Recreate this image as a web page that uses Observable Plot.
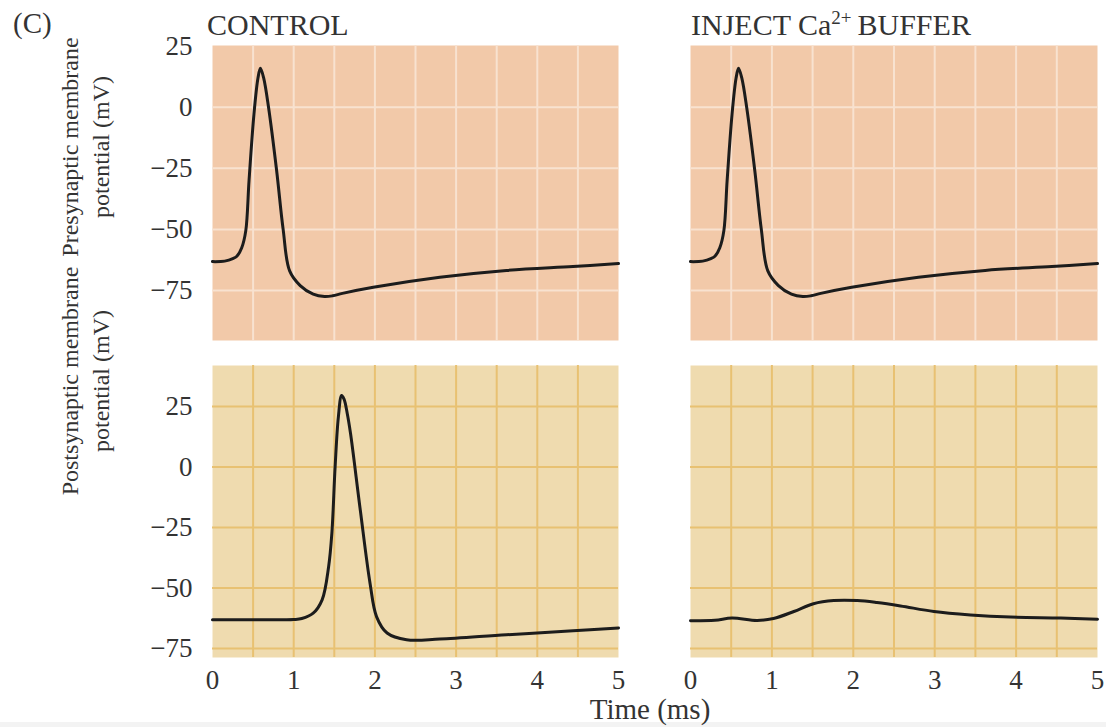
<!DOCTYPE html>
<html><head><meta charset="utf-8">
<script src="https://cdn.jsdelivr.net/npm/d3@7"></script>
<script src="https://cdn.jsdelivr.net/npm/@observablehq/plot@0.6"></script>
<style>
body{margin:0;background:#fff;}
#root{position:relative;width:1106px;height:727px;overflow:hidden;font-family:"Liberation Serif",serif;color:#333;}
.lbl{position:absolute;white-space:nowrap;font-size:30px;line-height:30px;}
.ylab{position:absolute;white-space:nowrap;font-size:24px;line-height:31px;text-align:center;transform:translate(-50%,-50%) rotate(-90deg);}
.p{position:absolute;}
sup{font-size:19px;vertical-align:11px;line-height:0;}
</style></head><body><div id="root"></div>
<script>
// ---- data ----
const preT = [0, 0.15, 0.25, 0.30, 0.36, 0.41, 0.45, 0.51, 0.56, 0.59, 0.63, 0.69, 0.79, 0.87, 0.95, 1.08, 1.24, 1.38, 1.48, 1.6, 1.98, 2.8, 3.62, 4.44, 5.0];
const preV = [-63.2, -63, -62, -61, -57.5, -50.5, -30, -3, 12, 16, 12, 0, -26, -50, -67, -73, -76.5, -77.5, -77.2, -76.2, -73.7, -69.6, -66.8, -65.2, -64];
const postCtrlT = [0, 0.5, 1.0, 1.1, 1.24, 1.35, 1.43, 1.47, 1.51, 1.55, 1.59, 1.62, 1.66, 1.70, 1.82, 1.94, 2.02, 2.15, 2.39, 2.8, 3.62, 4.44, 5.0];
const postCtrlV = [-63.1, -63.1, -63, -62.6, -60.4, -54.9, -41.2, -27.4, 0, 20.6, 29.5, 28, 22, 13.8, -17.8, -48, -61.8, -68.6, -71.4, -71.1, -69.3, -67.7, -66.5];
const postBufT = [0, 0.3, 0.51, 0.82, 1.02, 1.27, 1.51, 1.76, 2.05, 2.29, 2.58, 2.99, 3.44, 3.93, 4.55, 5.0];
const postBufV = [-63.5, -63.3, -62.4, -63.4, -62.6, -59.7, -56.5, -55.2, -55.2, -56, -57.4, -59.7, -61.1, -62, -62.4, -62.9];
const xTicks = [0, 1, 2, 3, 4, 5];
const yTicks = [25, 0, -25, -50, -75];
const xGrid = [0.5, 1, 1.5, 2, 2.5, 3, 3.5, 4, 4.5];
const preGridY = [0, -25, -50, -75];
const postGridY = [25, 0, -25, -50, -75];
const colTitles = ["CONTROL", "INJECT Ca<sup>2+</sup>\u2009BUFFER"];
const rowTitles = [["Presynaptic membrane", "potential (mV)"], ["Postsynaptic membrane", "potential (mV)"]];

const zip = (T, V) => T.map((t, i) => ({t, v: V[i]}));
const fmt = d => d < 0 ? "\u2212" + (-d) : String(d);
const root = document.getElementById("root");

function panel({data, yDomain, gridY, bg, grid, showX, showY, left, top, fw, fh}) {
  const mL = 80, mR = 20, mT = 5, mB = 45;
  const chart = Plot.plot({
    width: fw + mL + mR, height: fh + mT + mB,
    marginLeft: mL, marginRight: mR, marginTop: mT, marginBottom: mB,
    style: {fontFamily: '"Liberation Serif", serif', fontSize: "27px", color: "#333", background: "transparent", overflow: "visible"},
    x: {domain: [0, 5], ticks: xTicks, tickFormat: fmt, tickSize: 0, tickPadding: 12, label: null, axis: showX ? "bottom" : null},
    y: {domain: yDomain, ticks: yTicks, tickFormat: fmt, tickSize: 0, tickPadding: 20, label: null, axis: showY ? "left" : null},
    marks: [
      Plot.frame({fill: bg, stroke: "none"}),
      Plot.ruleX(xGrid, {stroke: grid, strokeWidth: 2}),
      Plot.ruleY(gridY, {stroke: grid, strokeWidth: 2}),
      Plot.line(data, {x: "t", y: "v", curve: "catmull-rom", stroke: "#1c1c1c", strokeWidth: 3})
    ]
  });
  chart.classList.add("p");
  chart.style.left = (left - mL) + "px";
  chart.style.top = (top - mT) + "px";
  root.appendChild(chart);
}

const preDomain = [-95.5, 25.3];
const postDomain = [-78.7, 41.9];
const preBg = "#F2C9A9", preGrid = "#F8E2D0";
const postBg = "#EFDBAF", postGrid = "#E8C172";

const strip = document.createElement("div");
Object.assign(strip.style, {position: "absolute", left: "0px", top: "722px", width: "1106px", height: "5px", background: "#F3F3F3"});
root.appendChild(strip);

panel({data: zip(preT, preV), yDomain: preDomain, gridY: preGridY, bg: preBg, grid: preGrid, showX: false, showY: true, left: 212, top: 45, fw: 406, fh: 295});
panel({data: zip(preT, preV), yDomain: preDomain, gridY: preGridY, bg: preBg, grid: preGrid, showX: false, showY: false, left: 690, top: 45, fw: 407, fh: 295});
panel({data: zip(postCtrlT, postCtrlV), yDomain: postDomain, gridY: postGridY, bg: postBg, grid: postGrid, showX: true, showY: true, left: 212, top: 365, fw: 406, fh: 292});
panel({data: zip(postBufT, postBufV), yDomain: postDomain, gridY: postGridY, bg: postBg, grid: postGrid, showX: true, showY: false, left: 690, top: 365, fw: 407, fh: 292});

function addLabel(html, left, top, cls = "lbl", extra = {}) {
  const d = document.createElement("div");
  d.className = cls;
  d.innerHTML = html;
  d.style.left = left + "px";
  d.style.top = top + "px";
  Object.assign(d.style, extra);
  root.appendChild(d);
  return d;
}
addLabel("(C)", 13, 9, "lbl", {fontSize: "29px", lineHeight: "29px"});
addLabel(colTitles[0], 207, 10);
addLabel(colTitles[1], 691, 10);
addLabel(rowTitles[0].join("<br>"), 86, 147, "ylab");
addLabel(rowTitles[1].join("<br>"), 86, 381, "ylab");
addLabel("Time (ms)", 650, 695, "lbl", {transform: "translateX(-50%)", fontSize: "29px", lineHeight: "29px"});
</script>
</body></html>
